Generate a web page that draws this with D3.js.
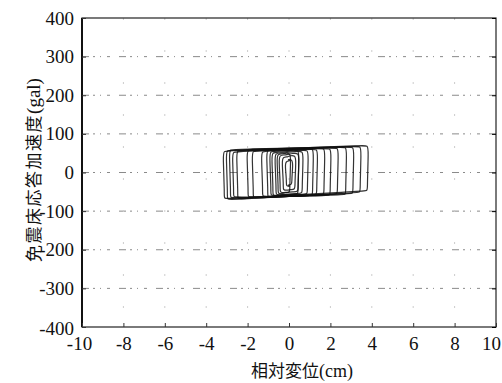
<!DOCTYPE html>
<html>
<head>
<meta charset="utf-8">
<script src="https://cdn.jsdelivr.net/npm/d3@7"></script>
<style>
  body { margin: 0; background: #fff; }
  svg { display: block; }
</style>
</head>
<body>
<script>
// chart size and plot box
const W = 502, H = 383;
const m = {left: 82, top: 18, right: 6, bottom: 56};

// axis ticks
const xTicks = [-10, -8, -6, -4, -2, 0, 2, 4, 6, 8, 10];
const yTicks = [-400, -300, -200, -100, 0, 100, 200, 300, 400];
const xTitle = ["相対変位", "(cm)"];
const yTitle = ["免震床応答加速度", "(gal)"];

// hysteresis loops (displacement cm, acceleration gal)
const loopXMin = [-3.15, -3.0, -2.85, -2.7, -2.5, -2.0, -1.75, -1.3, -1.05, -0.8, -0.65, -0.45, -0.3, -0.15, -0.55, -0.9];
const loopXMax = [3.8, 3.45, 3.1, 2.75, 2.35, 2.0, 1.7, 1.35, 1.15, 0.9, 0.65, 0.45, 0.3, 0.15, 0.05, 0.45];
const loopTopL = [56, 58, 60, 54, 57, 58, 56, 55, 58, 52, 50, 45, 40, 30, 48, 55];
const loopTopR = [70, 68, 66, 66, 64, 62, 63, 60, 62, 58, 55, 50, 44, 34, 50, 58];
const loopBotL = [-68, -70, -66, -64, -68, -64, -66, -62, -64, -60, -58, -52, -46, -36, -55, -60];
const loopBotR = [-48, -52, -55, -58, -56, -60, -58, -58, -60, -56, -54, -50, -44, -32, -52, -56];

const iw = W - m.left - m.right, ih = H - m.top - m.bottom;
const serif = "'Liberation Serif', 'Times New Roman', 'DejaVu Serif', serif";
const cjk = "'Noto Sans CJK JP', sans-serif";

const svg = d3.select("body").append("svg")
  .attr("width", W).attr("height", H);

const x = d3.scaleLinear().domain([-10, 10]).range([0, iw]);
const y = d3.scaleLinear().domain([-400, 400]).range([ih, 0]);

const g = svg.append("g").attr("transform", `translate(${m.left},${m.top})`);

// faint broken grid
g.append("g").selectAll("line").data(yTicks.slice(1, -1)).join("line")
  .attr("x1", 0).attr("x2", iw)
  .attr("y1", d => y(d)).attr("y2", d => y(d))
  .attr("stroke", "#8a8a8a").attr("stroke-width", 1)
  .attr("stroke-dasharray", "7,4,2,5,1,6,3,9");

g.append("g").selectAll("line").data(xTicks.slice(1, -1)).join("line")
  .attr("y1", 0).attr("y2", ih)
  .attr("x1", d => x(d)).attr("x2", d => x(d))
  .attr("stroke", "#ccc").attr("stroke-width", 1)
  .attr("stroke-dasharray", "2,30");

// loops
const rx = 0.25, ry = 12;
const line = d3.line().x(d => x(d[0])).y(d => y(d[1])).curve(d3.curveBasisClosed);
const loops = loopXMin.map((x0, i) => {
  const x1 = loopXMax[i];
  const tl = loopTopL[i], tr = loopTopR[i], bl = loopBotL[i], br = loopBotR[i];
  return [
    [x0 + 0.04, bl + ry], [x0 - 0.04, tl - ry], [x0, tl], [x0 + rx, tl],
    [x1 - rx, tr], [x1, tr], [x1 + 0.04, tr - ry], [x1 - 0.02, br + ry],
    [x1, br], [x1 - rx, br], [x0 + rx, bl], [x0, bl]
  ];
});
g.append("g").selectAll("path").data(loops).join("path")
  .attr("d", line)
  .attr("fill", "none")
  .attr("stroke", "#111")
  .attr("stroke-width", 1.2)
  .attr("stroke-opacity", 0.85);

// frame
g.append("rect").attr("width", iw).attr("height", ih)
  .attr("fill", "none").attr("stroke", "#222").attr("stroke-width", 1.2);
g.append("line").attr("x1", 0).attr("x2", 0).attr("y1", 0).attr("y2", ih)
  .attr("stroke", "#111").attr("stroke-width", 2);

// axes with inward ticks
const fmt = d => String(d);
const xAxis = g.append("g").attr("transform", `translate(0,${ih})`)
  .call(d3.axisBottom(x).tickValues(xTicks).tickSizeInner(-4).tickSizeOuter(0)
    .tickFormat(fmt).tickPadding(10));
const yAxis = g.append("g")
  .call(d3.axisLeft(y).tickValues(yTicks).tickSizeInner(-4).tickSizeOuter(0)
    .tickFormat(fmt).tickPadding(8));
g.append("g").attr("transform", `translate(${iw},0)`)
  .call(d3.axisRight(y).tickValues(yTicks).tickSizeInner(-4).tickSizeOuter(0).tickFormat(""))
  .select(".domain").remove();

[xAxis, yAxis].forEach(a => {
  a.attr("font-family", null).attr("font-size", null);
  a.select(".domain").remove();
  a.selectAll("line").attr("stroke", "#333");
  a.selectAll("text")
    .style("font-family", serif).style("font-size", "19px").style("fill", "#111");
});
xAxis.selectAll(".tick text").filter(d => d === 10).attr("dx", -5);
xAxis.selectAll(".tick text").filter(d => d === -10).attr("dx", -3);
yAxis.selectAll(".tick text").filter(d => d === -400).attr("dy", "0.42em");

// titles: CJK part in gothic, units in serif
const xt = svg.append("text")
  .attr("x", 302).attr("y", 377)
  .attr("text-anchor", "middle").attr("fill", "#111");
xt.append("tspan").style("font-family", cjk).style("font-size", "17px").text(xTitle[0]);
xt.append("tspan").style("font-family", serif).style("font-size", "18px").text(xTitle[1]);

const yt = svg.append("text")
  .attr("transform", "translate(40,170) rotate(-90)")
  .attr("text-anchor", "middle").attr("fill", "#111");
yt.append("tspan").style("font-family", cjk).style("font-size", "17px")
  .attr("letter-spacing", 1.5).text(yTitle[0]);
yt.append("tspan").style("font-family", serif).style("font-size", "19px").text(yTitle[1]);
</script>
</body>
</html>
